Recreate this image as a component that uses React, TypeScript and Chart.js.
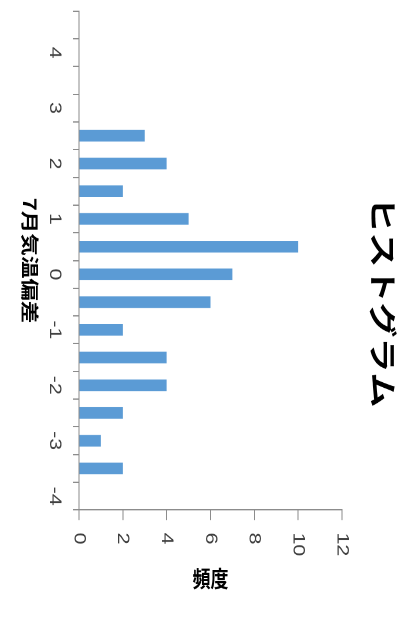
import { useEffect, useRef } from 'react';
import { Chart, registerables } from 'chart.js';

Chart.register(...registerables);

// Texts
const TITLE = 'ヒストグラム';
const CATEGORY_TITLE = '7月気温偏差';
const VALUE_TITLE = '頻度';

// Histogram bins (temperature deviation) and their counts
const bins = [4.5, 4, 3.5, 3, 2.5, 2, 1.5, 1, 0.5, 0, -0.5, -1, -1.5, -2, -2.5, -3, -3.5, -4];
const counts = [0, 0, 0, 0, 3, 4, 2, 5, 10, 7, 6, 2, 4, 4, 2, 1, 2, 0];

// Frequency axis ticks
const valueTicks = [0, 2, 4, 6, 8, 10, 12];

// The chart is drawn as a column chart and turned a quarter turn clockwise,
// with a slight stretch along its category direction.
const VIEW_W = 414;
const VIEW_H = 623;
const CANVAS_W = 498;
const CANVAS_H = VIEW_W;
const STRETCH = VIEW_H / CANVAS_W;

const AXIS_COLOR = '#8c8c8c';
const LABEL_COLOR = '#404040';
const TICK_FONT = { family: '"Liberation Sans", Arial, sans-serif', size: 17 };
const CJK = '"Noto Sans CJK JP", "Noto Sans", sans-serif';

const extraTexts = {
  id: 'extraTexts',
  afterDraw(chart: Chart) {
    const { ctx, chartArea } = chart;
    ctx.save();
    ctx.fillStyle = '#000';
    ctx.textAlign = 'center';
    ctx.textBaseline = 'middle';

    // main title above the plot
    ctx.font = `bold 28px ${CJK}`;
    ctx.fillText(TITLE, chartArea.left + 233, 31);

    // frequency axis title, turned so it reads upright on screen
    ctx.font = `bold 18px ${CJK}`;
    ctx.translate(chartArea.right + 55, (chartArea.top + chartArea.bottom) / 2);
    ctx.rotate(-Math.PI / 2);
    ctx.fillText(VALUE_TITLE, 0, 0);
    ctx.restore();
  },
};

export default function App() {
  const canvasRef = useRef<HTMLCanvasElement | null>(null);

  useEffect(() => {
    const canvas = canvasRef.current;
    if (!canvas) return;
    const chart = new Chart(canvas, {
      type: 'bar',
      data: {
        labels: bins.map(String),
        datasets: [
          {
            data: counts,
            backgroundColor: '#5B9BD5',
            borderWidth: 0,
            barPercentage: 0.42,
            categoryPercentage: 1,
          },
        ],
      },
      options: {
        animation: false,
        responsive: false,
        devicePixelRatio: 2,
        layout: { padding: { left: 8.8, top: 72, right: 0, bottom: 0 } },
        plugins: {
          legend: { display: false },
          title: { display: false },
          tooltip: { enabled: false },
        },
        scales: {
          x: {
            type: 'category',
            afterFit: (scale: any) => {
              scale.height = 79;
            },
            grid: {
              display: true,
              offset: true,
              drawOnChartArea: false,
              drawTicks: true,
              tickLength: 6,
              color: AXIS_COLOR,
            },
            border: { display: true, color: AXIS_COLOR, width: 1 },
            ticks: {
              autoSkip: false,
              maxRotation: 0,
              minRotation: 0,
              padding: 8,
              color: LABEL_COLOR,
              font: TICK_FONT,
              callback: (_v: any, i: number) => (Number.isInteger(bins[i]) ? String(bins[i]) : ''),
            },
            title: {
              display: true,
              text: CATEGORY_TITLE,
              color: '#000',
              font: { family: CJK, size: 18, weight: 'bold' },
              padding: { top: 0, bottom: 19 },
            },
          },
          y: {
            type: 'linear',
            position: 'right',
            min: valueTicks[0],
            max: valueTicks[valueTicks.length - 1],
            afterFit: (scale: any) => {
              scale.width = 90.3;
            },
            grid: {
              display: true,
              drawOnChartArea: false,
              drawTicks: true,
              tickLength: 8,
              color: AXIS_COLOR,
            },
            border: { display: true, color: AXIS_COLOR, width: 1 },
            ticks: {
              stepSize: valueTicks[1] - valueTicks[0],
              padding: 10,
              color: LABEL_COLOR,
              font: TICK_FONT,
            },
          },
        },
      },
      plugins: [extraTexts],
    });
    return () => chart.destroy();
  }, []);

  return (
    <div
      style={{
        position: 'fixed',
        left: 0,
        top: 0,
        width: VIEW_W,
        height: VIEW_H,
        overflow: 'hidden',
        background: '#fff',
      }}
    >
      <canvas
        ref={canvasRef}
        width={CANVAS_W}
        height={CANVAS_H}
        style={{
          position: 'absolute',
          left: 0,
          top: 0,
          width: CANVAS_W,
          height: CANVAS_H,
          transformOrigin: '0 0',
          transform: `translateX(${VIEW_W}px) rotate(90deg) scale(${STRETCH}, 1)`,
        }}
      />
    </div>
  );
}
